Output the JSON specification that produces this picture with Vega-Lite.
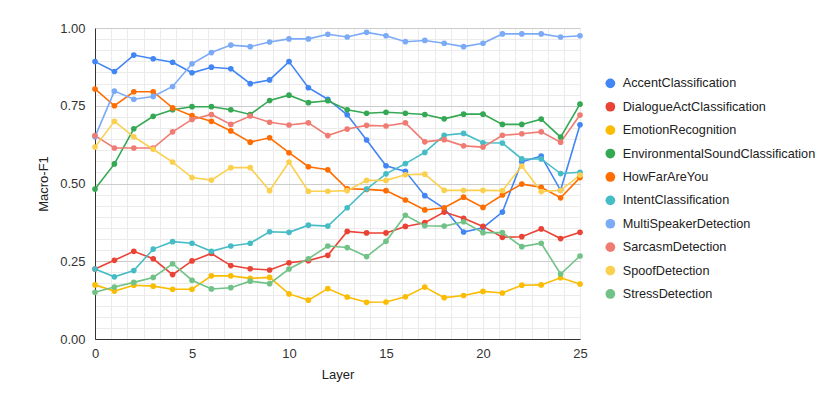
{
  "$schema": "https://vega.github.io/schema/vega-lite/v6.json",
  "width": 485,
  "height": 311,
  "autosize": "none",
  "padding": {"left": 95, "top": 28, "right": 250, "bottom": 74},
  "background": "white",
  "config": {
    "font": "Liberation Sans",
    "view": {"stroke": null},
    "axis": {"labelFontSize": 13, "labelColor": "#333333", "titleFontSize": 13, "titleFontWeight": "normal", "titleColor": "#222222", "ticks": false, "domainColor": "#333333", "labelFlush": false, "labelOverlap": false}
  },
  "data": {
    "values": [
      {"layer": 0, "AccentClassification": 0.892, "DialogueActClassification": 0.225, "EmotionRecognition": 0.174, "EnvironmentalSoundClassification": 0.482, "HowFarAreYou": 0.804, "IntentClassification": 0.225, "MultiSpeakerDetection": 0.650, "SarcasmDetection": 0.654, "SpoofDetection": 0.617, "StressDetection": 0.150},
      {"layer": 1, "AccentClassification": 0.860, "DialogueActClassification": 0.253, "EmotionRecognition": 0.154, "EnvironmentalSoundClassification": 0.563, "HowFarAreYou": 0.750, "IntentClassification": 0.200, "MultiSpeakerDetection": 0.797, "SarcasmDetection": 0.614, "SpoofDetection": 0.700, "StressDetection": 0.167},
      {"layer": 2, "AccentClassification": 0.913, "DialogueActClassification": 0.282, "EmotionRecognition": 0.173, "EnvironmentalSoundClassification": 0.676, "HowFarAreYou": 0.795, "IntentClassification": 0.220, "MultiSpeakerDetection": 0.771, "SarcasmDetection": 0.614, "SpoofDetection": 0.650, "StressDetection": 0.182},
      {"layer": 3, "AccentClassification": 0.901, "DialogueActClassification": 0.258, "EmotionRecognition": 0.170, "EnvironmentalSoundClassification": 0.716, "HowFarAreYou": 0.795, "IntentClassification": 0.289, "MultiSpeakerDetection": 0.780, "SarcasmDetection": 0.614, "SpoofDetection": 0.610, "StressDetection": 0.198},
      {"layer": 4, "AccentClassification": 0.890, "DialogueActClassification": 0.207, "EmotionRecognition": 0.160, "EnvironmentalSoundClassification": 0.737, "HowFarAreYou": 0.743, "IntentClassification": 0.313, "MultiSpeakerDetection": 0.812, "SarcasmDetection": 0.666, "SpoofDetection": 0.569, "StressDetection": 0.242},
      {"layer": 5, "AccentClassification": 0.856, "DialogueActClassification": 0.251, "EmotionRecognition": 0.160, "EnvironmentalSoundClassification": 0.747, "HowFarAreYou": 0.718, "IntentClassification": 0.308, "MultiSpeakerDetection": 0.885, "SarcasmDetection": 0.706, "SpoofDetection": 0.519, "StressDetection": 0.189},
      {"layer": 6, "AccentClassification": 0.874, "DialogueActClassification": 0.275, "EmotionRecognition": 0.203, "EnvironmentalSoundClassification": 0.747, "HowFarAreYou": 0.700, "IntentClassification": 0.282, "MultiSpeakerDetection": 0.921, "SarcasmDetection": 0.722, "SpoofDetection": 0.511, "StressDetection": 0.161},
      {"layer": 7, "AccentClassification": 0.869, "DialogueActClassification": 0.236, "EmotionRecognition": 0.203, "EnvironmentalSoundClassification": 0.737, "HowFarAreYou": 0.669, "IntentClassification": 0.299, "MultiSpeakerDetection": 0.945, "SarcasmDetection": 0.690, "SpoofDetection": 0.551, "StressDetection": 0.165},
      {"layer": 8, "AccentClassification": 0.821, "DialogueActClassification": 0.226, "EmotionRecognition": 0.195, "EnvironmentalSoundClassification": 0.722, "HowFarAreYou": 0.633, "IntentClassification": 0.308, "MultiSpeakerDetection": 0.940, "SarcasmDetection": 0.717, "SpoofDetection": 0.551, "StressDetection": 0.186},
      {"layer": 9, "AccentClassification": 0.833, "DialogueActClassification": 0.222, "EmotionRecognition": 0.198, "EnvironmentalSoundClassification": 0.767, "HowFarAreYou": 0.647, "IntentClassification": 0.345, "MultiSpeakerDetection": 0.955, "SarcasmDetection": 0.697, "SpoofDetection": 0.477, "StressDetection": 0.178},
      {"layer": 10, "AccentClassification": 0.892, "DialogueActClassification": 0.245, "EmotionRecognition": 0.145, "EnvironmentalSoundClassification": 0.784, "HowFarAreYou": 0.599, "IntentClassification": 0.343, "MultiSpeakerDetection": 0.965, "SarcasmDetection": 0.688, "SpoofDetection": 0.569, "StressDetection": 0.225},
      {"layer": 11, "AccentClassification": 0.808, "DialogueActClassification": 0.252, "EmotionRecognition": 0.125, "EnvironmentalSoundClassification": 0.760, "HowFarAreYou": 0.554, "IntentClassification": 0.366, "MultiSpeakerDetection": 0.965, "SarcasmDetection": 0.695, "SpoofDetection": 0.475, "StressDetection": 0.258},
      {"layer": 12, "AccentClassification": 0.771, "DialogueActClassification": 0.269, "EmotionRecognition": 0.162, "EnvironmentalSoundClassification": 0.766, "HowFarAreYou": 0.544, "IntentClassification": 0.363, "MultiSpeakerDetection": 0.980, "SarcasmDetection": 0.654, "SpoofDetection": 0.475, "StressDetection": 0.299},
      {"layer": 13, "AccentClassification": 0.721, "DialogueActClassification": 0.346, "EmotionRecognition": 0.135, "EnvironmentalSoundClassification": 0.737, "HowFarAreYou": 0.483, "IntentClassification": 0.422, "MultiSpeakerDetection": 0.971, "SarcasmDetection": 0.675, "SpoofDetection": 0.477, "StressDetection": 0.294},
      {"layer": 14, "AccentClassification": 0.640, "DialogueActClassification": 0.341, "EmotionRecognition": 0.118, "EnvironmentalSoundClassification": 0.726, "HowFarAreYou": 0.481, "IntentClassification": 0.482, "MultiSpeakerDetection": 0.986, "SarcasmDetection": 0.687, "SpoofDetection": 0.510, "StressDetection": 0.265},
      {"layer": 15, "AccentClassification": 0.557, "DialogueActClassification": 0.341, "EmotionRecognition": 0.119, "EnvironmentalSoundClassification": 0.729, "HowFarAreYou": 0.477, "IntentClassification": 0.531, "MultiSpeakerDetection": 0.975, "SarcasmDetection": 0.685, "SpoofDetection": 0.510, "StressDetection": 0.314},
      {"layer": 16, "AccentClassification": 0.539, "DialogueActClassification": 0.362, "EmotionRecognition": 0.136, "EnvironmentalSoundClassification": 0.726, "HowFarAreYou": 0.447, "IntentClassification": 0.564, "MultiSpeakerDetection": 0.956, "SarcasmDetection": 0.695, "SpoofDetection": 0.528, "StressDetection": 0.398},
      {"layer": 17, "AccentClassification": 0.461, "DialogueActClassification": 0.374, "EmotionRecognition": 0.167, "EnvironmentalSoundClassification": 0.722, "HowFarAreYou": 0.415, "IntentClassification": 0.600, "MultiSpeakerDetection": 0.960, "SarcasmDetection": 0.634, "SpoofDetection": 0.530, "StressDetection": 0.364},
      {"layer": 18, "AccentClassification": 0.420, "DialogueActClassification": 0.408, "EmotionRecognition": 0.133, "EnvironmentalSoundClassification": 0.708, "HowFarAreYou": 0.422, "IntentClassification": 0.655, "MultiSpeakerDetection": 0.951, "SarcasmDetection": 0.641, "SpoofDetection": 0.478, "StressDetection": 0.363},
      {"layer": 19, "AccentClassification": 0.344, "DialogueActClassification": 0.388, "EmotionRecognition": 0.140, "EnvironmentalSoundClassification": 0.723, "HowFarAreYou": 0.456, "IntentClassification": 0.661, "MultiSpeakerDetection": 0.940, "SarcasmDetection": 0.621, "SpoofDetection": 0.478, "StressDetection": 0.377},
      {"layer": 20, "AccentClassification": 0.358, "DialogueActClassification": 0.362, "EmotionRecognition": 0.153, "EnvironmentalSoundClassification": 0.723, "HowFarAreYou": 0.423, "IntentClassification": 0.631, "MultiSpeakerDetection": 0.951, "SarcasmDetection": 0.617, "SpoofDetection": 0.478, "StressDetection": 0.342},
      {"layer": 21, "AccentClassification": 0.408, "DialogueActClassification": 0.327, "EmotionRecognition": 0.148, "EnvironmentalSoundClassification": 0.690, "HowFarAreYou": 0.463, "IntentClassification": 0.630, "MultiSpeakerDetection": 0.981, "SarcasmDetection": 0.655, "SpoofDetection": 0.477, "StressDetection": 0.342},
      {"layer": 22, "AccentClassification": 0.570, "DialogueActClassification": 0.329, "EmotionRecognition": 0.173, "EnvironmentalSoundClassification": 0.690, "HowFarAreYou": 0.498, "IntentClassification": 0.579, "MultiSpeakerDetection": 0.981, "SarcasmDetection": 0.660, "SpoofDetection": 0.556, "StressDetection": 0.297},
      {"layer": 23, "AccentClassification": 0.588, "DialogueActClassification": 0.354, "EmotionRecognition": 0.174, "EnvironmentalSoundClassification": 0.707, "HowFarAreYou": 0.488, "IntentClassification": 0.579, "MultiSpeakerDetection": 0.981, "SarcasmDetection": 0.666, "SpoofDetection": 0.474, "StressDetection": 0.308},
      {"layer": 24, "AccentClassification": 0.478, "DialogueActClassification": 0.323, "EmotionRecognition": 0.197, "EnvironmentalSoundClassification": 0.649, "HowFarAreYou": 0.454, "IntentClassification": 0.532, "MultiSpeakerDetection": 0.971, "SarcasmDetection": 0.633, "SpoofDetection": 0.478, "StressDetection": 0.209},
      {"layer": 25, "AccentClassification": 0.689, "DialogueActClassification": 0.343, "EmotionRecognition": 0.177, "EnvironmentalSoundClassification": 0.755, "HowFarAreYou": 0.519, "IntentClassification": 0.536, "MultiSpeakerDetection": 0.975, "SarcasmDetection": 0.720, "SpoofDetection": 0.527, "StressDetection": 0.267}
    ]
  },
  "transform": [
    {"fold": ["AccentClassification", "DialogueActClassification", "EmotionRecognition", "EnvironmentalSoundClassification", "HowFarAreYou", "IntentClassification", "MultiSpeakerDetection", "SarcasmDetection", "SpoofDetection", "StressDetection"], "as": ["task", "f1"]}
  ],
  "encoding": {
    "x": {
      "field": "layer", "type": "quantitative",
      "scale": {"domain": [0, 25], "nice": false, "zero": false},
      "axis": {
        "title": "Layer",
        "values": [0, 0.8333333333, 1.6666666667, 2.5, 3.3333333333, 4.1666666667, 5, 5.8333333333, 6.6666666667, 7.5, 8.3333333333, 9.1666666667, 10, 10.8333333333, 11.6666666667, 12.5, 13.3333333333, 14.1666666667, 15, 15.8333333333, 16.6666666667, 17.5, 18.3333333333, 19.1666666667, 20, 20.8333333333, 21.6666666667, 22.5, 23.3333333333, 24.1666666667, 25],
        "labelExpr": "abs(datum.value/5-round(datum.value/5))<0.001 ? format(datum.value,'d') : ''",
        "gridColor": "#ebebeb",
        "labelPadding": 8,
        "titlePadding": 8
      }
    },
    "y": {
      "field": "f1", "type": "quantitative",
      "scale": {"domain": [0, 1], "nice": false},
      "axis": {
        "title": "Macro-F1",
        "values": [0, 0.0357142857, 0.0714285714, 0.1071428571, 0.1428571429, 0.1785714286, 0.2142857143, 0.25, 0.2857142857, 0.3214285714, 0.3571428571, 0.3928571429, 0.4285714286, 0.4642857143, 0.5, 0.5357142857, 0.5714285714, 0.6071428571, 0.6428571429, 0.6785714286, 0.7142857143, 0.75, 0.7857142857, 0.8214285714, 0.8571428571, 0.8928571429, 0.9285714286, 0.9642857143, 1],
        "labelExpr": "abs(datum.value*4-round(datum.value*4))<0.001 ? format(datum.value,'.2f') : ''",
        "gridColor": {"condition": {"test": "abs(datum.value*4-round(datum.value*4))<0.001", "value": "#cccccc"}, "value": "#ebebeb"},
        "labelPadding": 10,
        "titlePadding": 9
      }
    },
    "color": {
      "field": "task", "type": "nominal",
      "scale": {
        "domain": ["AccentClassification", "DialogueActClassification", "EmotionRecognition", "EnvironmentalSoundClassification", "HowFarAreYou", "IntentClassification", "MultiSpeakerDetection", "SarcasmDetection", "SpoofDetection", "StressDetection"],
        "range": ["#4285F4", "#EA4335", "#FBBC04", "#34A853", "#FF6D01", "#46BDC6", "#7BAAF7", "#F07B72", "#FCD04F", "#71C287"]
      },
      "legend": {
        "title": null, "orient": "none", "legendX": 509, "legendY": 49,
        "symbolType": "circle", "symbolSize": 95, "symbolStrokeWidth": 0, "symbolOpacity": 1,
        "labelFontSize": 12.7, "labelColor": "#222222", "labelOffset": 6, "labelLimit": 300, "rowPadding": 9.4, "padding": 0
      }
    }
  },
  "layer": [
    {"mark": {"type": "line", "strokeWidth": 1.6}},
    {"mark": {"type": "point", "filled": true, "size": 32, "opacity": 1}}
  ]
}
